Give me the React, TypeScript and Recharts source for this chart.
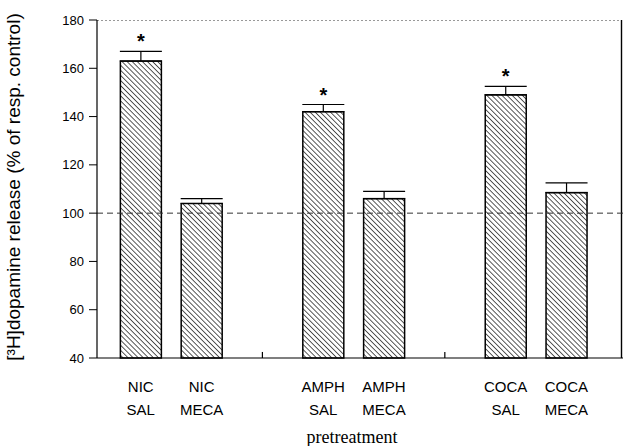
import { BarChart, Bar, XAxis, YAxis, ErrorBar, ReferenceLine, ReferenceArea } from 'recharts'

// 8 slots: empty slots separate the three drug groups
const drugs = ['NIC', 'NIC', '', 'AMPH', 'AMPH', '', 'COCA', 'COCA']
const treatments = ['SAL', 'MECA', '', 'SAL', 'MECA', '', 'SAL', 'MECA']
const release = [163, 104, null, 142, 106, null, 149, 108.5]
const sem = [4, 2, null, 3, 3, null, 3.5, 4]
const significant = [true, false, false, true, false, false, true, false]
const yTicks = [40, 60, 80, 100, 120, 140, 160, 180]

const data = drugs.map((d, i) => ({
  pos: i,
  drug: d,
  treatment: treatments[i],
  value: release[i],
  err: sem[i] == null ? null : [0, sem[i]],
  sig: significant[i],
}))
const gapSlots = data.filter((d) => !d.drug).map((d) => d.pos)

const FONT = 'Arial, "Liberation Sans", sans-serif'

const HatchedBar = (props: any) => {
  const { x, y, width, height, payload } = props
  if (payload.value == null) return null
  const pxPerUnit = height / (payload.value - 40)
  const errTop = y - (payload.err ? payload.err[1] : 0) * pxPerUnit
  return (
    <g>
      <rect x={x} y={y} width={width} height={height} fill="url(#hatch)" stroke="#000" strokeWidth={1.5} />
      {payload.sig && (
        <text x={x + width / 2} y={errTop - 3} textAnchor="middle" fontFamily={FONT} fontSize={20} fontWeight="bold" fill="#000">
          *
        </text>
      )}
    </g>
  )
}

// plot frame: dotted grey top, solid right side
const Frame = (props: any) => {
  const { x, y, width, height } = props
  const top = Math.min(y, y + height)
  const h = Math.abs(height)
  const right = x + width - 1.5
  return (
    <g>
      <line x1={x} x2={right} y1={top + 0.5} y2={top + 0.5} stroke="#999" strokeDasharray="2 2" />
      <path d={`M${right},${top}V${top + h}`} stroke="#000" strokeWidth={1.4} fill="none" />
    </g>
  )
}

const XTick = (props: any) => {
  const { x, y, payload } = props
  const d = data[Math.round(payload.value)]
  if (!d || !d.drug) return <g />
  return (
    <g fontFamily={FONT} fontSize={15} fill="#000">
      <text x={x} y={y + 34} textAnchor="middle">{d.drug}</text>
      <text x={x} y={y + 57} textAnchor="middle">{d.treatment}</text>
    </g>
  )
}

export default function App() {
  return (
    <div style={{ position: 'absolute', left: 0, top: 0, background: '#fff' }}>
      <BarChart
        width={626}
        height={446}
        data={data}
        margin={{ top: 20, right: 3, left: 0, bottom: 0 }}
        barSize={41}
      >
        <defs>
          <pattern id="hatch" width="3.6" height="3.6" patternUnits="userSpaceOnUse" patternTransform="rotate(45)">
            <rect width="3.6" height="3.6" fill="#fff" />
            <line x1="0" y1="0" x2="3.6" y2="0" stroke="#000" strokeWidth={1.3} />
          </pattern>
        </defs>
        <ReferenceArea y1={40} y2={180} shape={<Frame />} ifOverflow="visible" />
        <XAxis
          dataKey="pos"
          type="number"
          domain={[-0.72, 7.93]}
          ticks={data.map((d) => d.pos)}
          allowDataOverflow
          height={88}
          interval={0}
          tick={<XTick />}
          tickLine={false}
          tickSize={0}
          tickMargin={0}
          axisLine={{ stroke: '#000', strokeWidth: 1.2 }}
          label={{ value: 'pretreatment', position: 'insideBottom', offset: 3, fontFamily: '"Liberation Serif", "Times New Roman", serif', fontSize: 18, fill: '#000', dx: -8 }}
        />
        <YAxis
          domain={[40, 180]}
          ticks={yTicks}
          width={97}
          interval={0}
          tick={{ fontFamily: FONT, fontSize: 13, fill: '#000' }}
          tickSize={8}
          tickMargin={5}
          tickLine={{ stroke: '#000' }}
          axisLine={{ stroke: '#000', strokeWidth: 1.2 }}
          label={{
            value: '[³H]dopamine release (% of resp. control)',
            angle: -90,
            position: 'insideLeft',
            dx: 8,
            dy: -2,
            fontFamily: FONT,
            fontSize: 19,
            fill: '#000',
            style: { textAnchor: 'middle' },
          }}
        />
        <ReferenceLine y={100} stroke="#333" strokeDasharray="6 4" strokeWidth={1} />
        {gapSlots.map((s) => (
          <ReferenceLine
            key={s}
            segment={[{ x: s, y: 40 }, { x: s, y: 42.5 }]}
            stroke="#000"
            strokeWidth={1.2}
          />
        ))}
        <Bar dataKey="value" shape={<HatchedBar />} isAnimationActive={false}>
          <ErrorBar dataKey="err" width={21} stroke="#000" strokeWidth={1.2} direction="y" />
        </Bar>
      </BarChart>
    </div>
  )
}
